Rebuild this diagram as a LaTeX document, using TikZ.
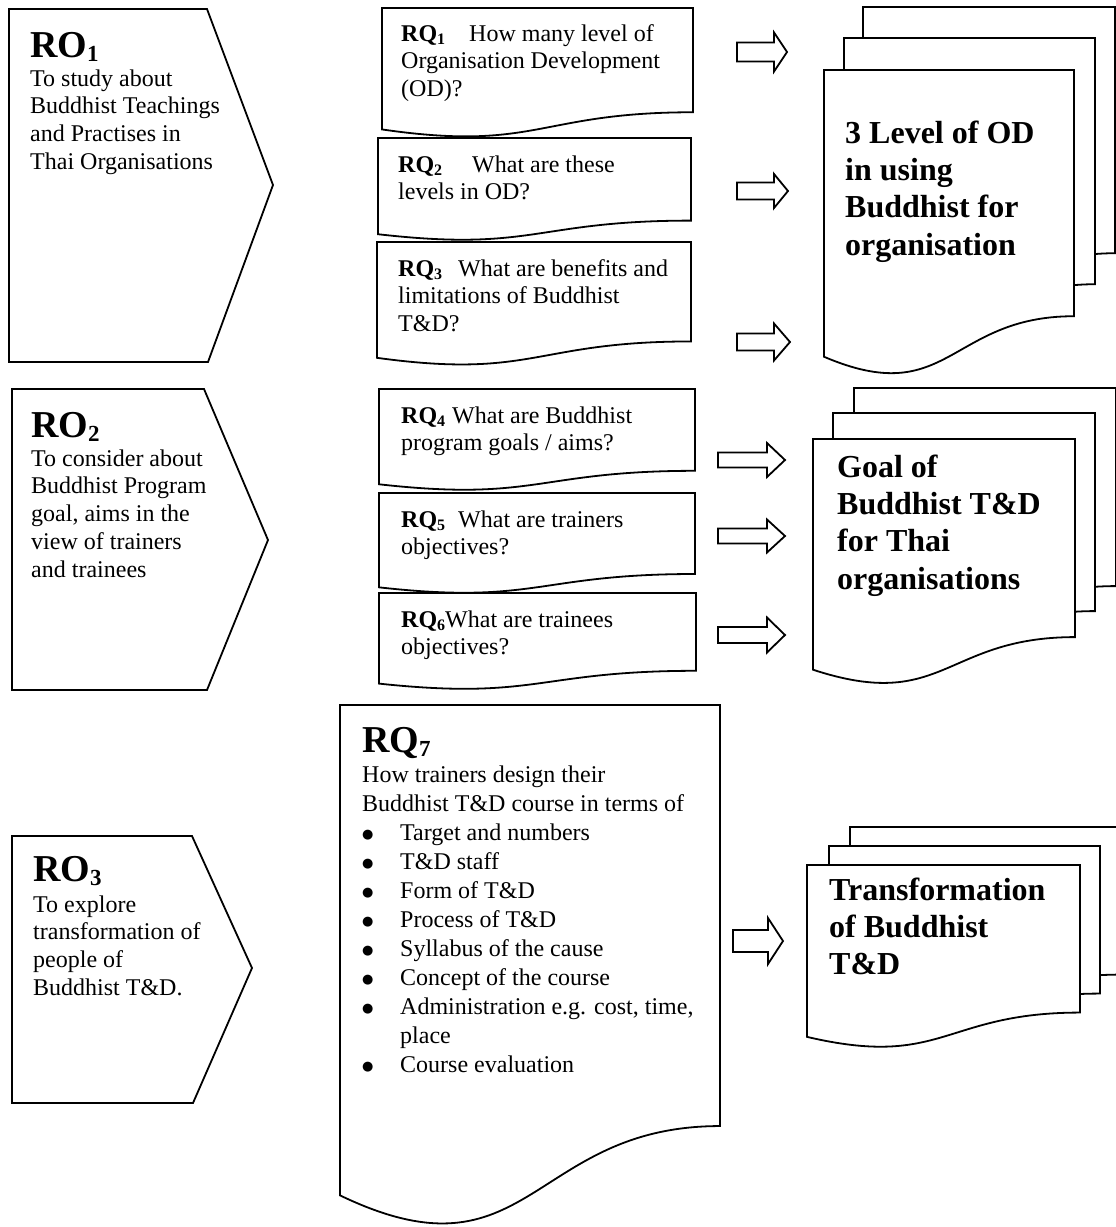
\documentclass[tikz,border=0pt]{standalone}
\usepackage{fontspec}
\setmainfont{Liberation Serif}
\newfontfamily\djv{DejaVu Sans}
\newcommand\docshape[4]{%
  \draw[shp] (#1,#2) -- ({#1+#3},#2) -- ({#1+#3},{#2+0.802*#4})
    .. controls ({#1+#3/2},{#2+0.802*#4}) and ({#1+#3/2},{#2+1.108*#4}) ..
    (#1,{#2+0.934*#4}) -- cycle;}
\newcommand\blockarr[6]{%
  \draw[shp] (#1,{#2-#5}) -- (#3,{#2-#5}) -- (#3,{#2-#6}) -- (#4,#2)
    -- (#3,{#2+#6}) -- (#3,{#2+#5}) -- (#1,{#2+#5}) -- cycle;}
\newcommand\sbt[1]{\raisebox{-4pt}{\fontsize{23}{23}\selectfont\bfseries #1}}
\newcommand\sbq[1]{\raisebox{-3pt}{\fontsize{16}{16}\selectfont\bfseries #1}}
\newcommand\bodystrut{\rule{0pt}{20pt}}
\newcommand\bul{\makebox[38pt][l]{\raisebox{1.5pt}{\djv\fontsize{13}{13}\selectfont ●}}}
\begin{document}
\begin{tikzpicture}[x=1pt,y=-1pt,line join=miter,
  shp/.style={draw=black,line width=1.8pt,fill=white},
  ttl/.style={anchor=north west,inner sep=0pt,font=\fontsize{38}{42}\selectfont\bfseries},
  body/.style={anchor=north west,inner sep=0pt,align=left,font=\fontsize{24}{27.7}\selectfont},
  bodyb/.style={anchor=north west,inner sep=0pt,align=left,font=\fontsize{24}{29}\selectfont},
  big/.style={anchor=north west,inner sep=0pt,align=left,font=\fontsize{32}{37.3}\selectfont\bfseries}]
\useasboundingbox (0,0) rectangle (1116,1227);
\fill[white] (0,0) rectangle (1116,1227);
\clip (0,0) rectangle (1116,1227);

% research objectives
\draw[shp] (9,9) -- (207,9) -- (273,185) -- (208,362) -- (9,362) -- cycle;
\draw[shp] (12,389) -- (204,389) -- (268,540) -- (207,690) -- (12,690) -- cycle;
\draw[shp] (12,836) -- (192,836) -- (252,968) -- (193,1103) -- (12,1103) -- cycle;

\node[ttl] (ro1t) at (30,25) {\rule{0pt}{32pt}RO\sbt{1}};
\node[body] (ro1b) at (30,66) {\bodystrut To study about\\Buddhist Teachings\\and Practises in\\Thai Organisations};
\node[ttl] (ro2t) at (31,405) {\rule{0pt}{32pt}RO\sbt{2}};
\node[body] (ro2b) at (31,446) {\bodystrut To consider about\\Buddhist Program\\goal, aims in the\\view of trainers\\and trainees};
\node[ttl] (ro3t) at (33,849) {\rule{0pt}{32pt}RO\sbt{3}};
\node[body] (ro3b) at (33,892) {\bodystrut To explore\\transformation of\\people of\\Buddhist T\&D.};

% research questions
\docshape{382}{8}{311}{130}
\docshape{378}{138}{313}{103}
\docshape{377}{242}{314}{124}
\docshape{379}{389}{316}{102}
\docshape{379}{493}{316}{101}
\docshape{379}{593}{317}{97}
\docshape{340}{705}{380}{525}

\node[body] (rq1) at (401,21) {\bodystrut{\bfseries RQ\sbq{1}}\hspace{24pt}How many level of\\Organisation Development\\(OD)?};
\node[body] (rq2) at (398,152) {\bodystrut{\bfseries RQ\sbq{2}}\hspace{30pt}What are these\\levels in OD?};
\node[body] (rq3) at (398,256) {\bodystrut{\bfseries RQ\sbq{3}}\hspace{16pt}What are benefits and\\limitations of Buddhist\\T\&D?};
\node[body] (rq4) at (401,403) {\bodystrut{\bfseries RQ\sbq{4}}\hspace{7pt}What are Buddhist\\program goals / aims?};
\node[body] (rq5) at (401,507) {\bodystrut{\bfseries RQ\sbq{5}}\hspace{13pt}What are trainers\\objectives?};
\node[body] (rq6) at (401,607) {\bodystrut{\bfseries RQ\sbq{6}}What are trainees\\objectives?};
\node[ttl] (rq7t) at (362,720) {\rule{0pt}{32pt}RQ\sbt{7}};
\node[bodyb] (rq7b) at (362,762) {\bodystrut How trainers design their\\
Buddhist T\&D course in terms of\\
\bul Target and numbers\\
\bul T\&D staff\\
\bul Form of T\&D\\
\bul Process of T\&D\\
\bul Syllabus of the cause\\
\bul Concept of the course\\
\bul Administration e.g. cost, time,\\
\hspace*{38pt}place\\
\bul Course evaluation};

% block arrows
\blockarr{737}{52}{774}{787}{9.5}{19.5}
\blockarr{737}{191}{774}{788}{8.5}{17}
\blockarr{737}{342}{774}{790}{8.5}{18.5}
\blockarr{718}{460}{767}{785}{7.5}{17}
\blockarr{718}{536}{767}{785}{7.5}{16.5}
\blockarr{718}{635}{767}{785}{8}{17.5}
\blockarr{733}{941}{768}{783}{11}{23}

% stacked documents
\docshape{863}{7}{252}{307}
\docshape{844}{38}{251}{307}
\docshape{824}{70}{250}{307}
\node[big] (d1) at (845,116) {\rule{0pt}{27pt}3 Level of OD\\in using\\Buddhist for\\organisation};

\docshape{854}{388}{262}{247}
\docshape{833}{413}{262}{247}
\docshape{813}{439}{262}{247}
\node[big] (d2) at (837,450) {\rule{0pt}{27pt}Goal of\\Buddhist T\&D\\for Thai\\organisations};

\docshape{850}{827}{273}{184}
\docshape{829}{846}{271}{184}
\docshape{807}{865}{273}{184}
\node[big] (d3) at (829,873) {\rule{0pt}{27pt}Transformation\\of Buddhist\\T\&D};
\end{tikzpicture}
\end{document}
